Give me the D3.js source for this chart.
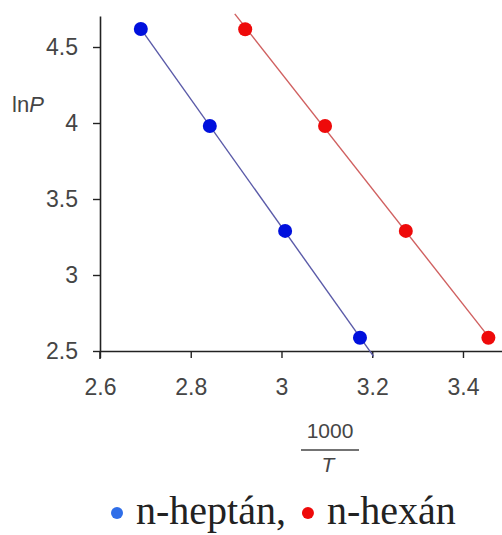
<!DOCTYPE html>
<html>
<head>
<meta charset="utf-8">
<script src="https://cdn.jsdelivr.net/npm/d3@7"></script>
<style>
  body { margin: 0; background: #fff; }
</style>
</head>
<body>
<div id="chart"></div>
<script>
// Data (x = 1000/T, y = ln P)
var seriesNames = ["n-heptán", "n-hexán"];
var heptanX = [2.690, 2.842, 3.008, 3.173];
var heptanY = [4.618, 3.980, 3.290, 2.587];
var hexanX = [2.920, 3.096, 3.274, 3.456];
var hexanY = [4.617, 3.980, 3.290, 2.587];
// x range covered by each trend line
var heptanLineX = [2.690, 3.203];
var hexanLineX = [2.897, 3.460];
var xTicks = [2.6, 2.8, 3, 3.2, 3.4];
var yTicks = [2.5, 3, 3.5, 4, 4.5];

let width = 502;
let height = 535;

let svg = d3.select("#chart")
  .append("svg")
  .attr("width", width)
  .attr("height", height)
  .style("font-family", "Liberation Sans, Arial, sans-serif");

// Scales
let xScale = d3.scaleLinear()
  .domain([2.6, 3.486])
  .range([100, 502]);

let yScale = d3.scaleLinear()
  .domain([2.5, 4.704])
  .range([351, 16]);

// Axes
let xAxis = d3.axisBottom(xScale)
  .tickValues(xTicks)
  .tickFormat(d => d)
  .tickSizeInner(7)
  .tickSizeOuter(0)
  .tickPadding(21);

let yAxis = d3.axisLeft(yScale)
  .tickValues(yTicks)
  .tickFormat(d => d)
  .tickSizeInner(7)
  .tickSizeOuter(0)
  .tickPadding(15);

let gx = svg.append("g")
  .attr("transform", "translate(0," + yScale(2.5) + ")")
  .call(xAxis);

let gy = svg.append("g")
  .attr("transform", "translate(" + xScale(2.6) + ",0)")
  .call(yAxis);

[gx, gy].forEach(function (g) {
  g.select(".domain").attr("stroke", "#222").attr("stroke-width", 1.6);
  g.selectAll(".tick line").attr("stroke", "#222").attr("stroke-width", 1.4);
  g.selectAll(".tick text")
    .attr("fill", "#454545")
    .style("font-size", "23px")
    .style("font-family", "Liberation Sans, Arial, sans-serif");
});

// y axis runs a little below the x axis
gy.append("line")
  .attr("x1", 0).attr("x2", 0)
  .attr("y1", yScale(2.5)).attr("y2", yScale(2.5) + 8)
  .attr("stroke", "#222").attr("stroke-width", 1.6);

// Trend lines (least squares fit of each series)
function fit(xs, ys) {
  let mx = d3.mean(xs), my = d3.mean(ys);
  let sxy = d3.sum(xs, (x, i) => (x - mx) * (ys[i] - my));
  let sxx = d3.sum(xs, x => (x - mx) * (x - mx));
  let b = sxy / sxx;
  return x => my + b * (x - mx);
}

let series = [
  { name: seriesNames[0], xs: heptanX, ys: heptanY, lineX: heptanLineX, dot: "#0010dd", line: "#5a5aa8", legend: "#2f6ee8" },
  { name: seriesNames[1], xs: hexanX, ys: hexanY, lineX: hexanLineX, dot: "#ee0a0a", line: "#d06060", legend: "#ee0a0a" }
];

series.forEach(function (s) {
  let f = fit(s.xs, s.ys);
  svg.append("line")
    .attr("x1", xScale(s.lineX[0]))
    .attr("y1", yScale(f(s.lineX[0])))
    .attr("x2", xScale(s.lineX[1]))
    .attr("y2", yScale(f(s.lineX[1])))
    .attr("stroke", s.line)
    .attr("stroke-width", 1.4);

  s.xs.forEach(function (x, i) {
    svg.append("circle")
      .attr("cx", xScale(x))
      .attr("cy", yScale(s.ys[i]))
      .attr("r", 7)
      .attr("fill", s.dot);
  });
});

// Axis titles
let ylab = svg.append("text")
  .attr("x", 12)
  .attr("y", 112)
  .attr("fill", "#454545")
  .style("font-size", "22px");
ylab.append("tspan").text("ln");
ylab.append("tspan").style("font-style", "italic").text("P");

svg.append("text")
  .attr("x", 330)
  .attr("y", 438)
  .attr("text-anchor", "middle")
  .attr("fill", "#454545")
  .style("font-size", "21px")
  .text("1000");

svg.append("line")
  .attr("x1", 301).attr("x2", 359)
  .attr("y1", 450).attr("y2", 450)
  .attr("stroke", "#454545")
  .attr("stroke-width", 1.6);

svg.append("text")
  .attr("x", 328)
  .attr("y", 472)
  .attr("text-anchor", "middle")
  .attr("fill", "#454545")
  .style("font-size", "21px")
  .style("font-style", "italic")
  .text("T");

// Legend
let legend = svg.append("g").style("font-family", "Liberation Serif, Times New Roman, serif");
let lx = 117;
series.forEach(function (s, i) {
  legend.append("circle")
    .attr("cx", lx)
    .attr("cy", 513)
    .attr("r", 6)
    .attr("fill", s.legend);
  let t = legend.append("text")
    .attr("x", lx + 19)
    .attr("y", 524)
    .attr("fill", "#222")
    .style("font-size", "40px")
    .text(s.name + (i < series.length - 1 ? "," : ""));
  lx = lx + 19 + t.node().getComputedTextLength() + 22;
});
</script>
</body>
</html>
